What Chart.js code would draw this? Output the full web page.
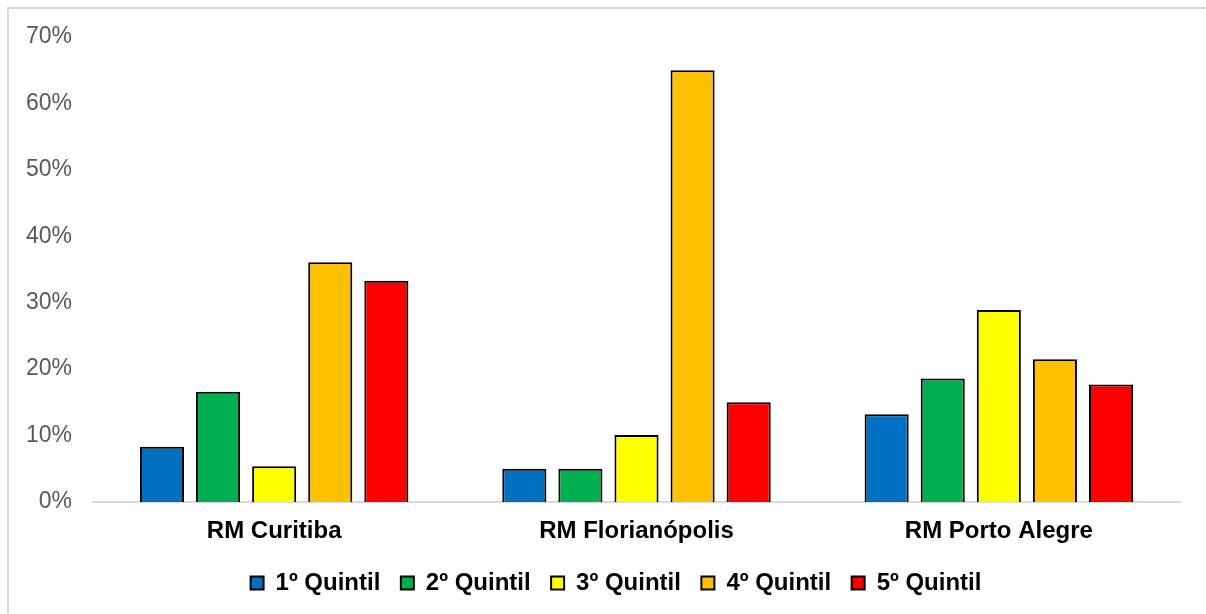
<!DOCTYPE html>
<html>
<head>
<meta charset="utf-8">
<script src="https://cdn.jsdelivr.net/npm/chart.js@4.4.1/dist/chart.umd.min.js"></script>
<style>
  html, body { margin: 0; padding: 0; background: #ffffff; }
  #wrap { width: 1206px; height: 614px; position: relative; }
</style>
</head>
<body>
<div id="wrap"><canvas id="c" width="1206" height="614"></canvas></div>
<script>
// Regions and income quintiles
const regions = ['RM Curitiba', 'RM Florianópolis', 'RM Porto Alegre'];
const quintis = ['1º Quintil', '2º Quintil', '3º Quintil', '4º Quintil', '5º Quintil'];

// Share (%) per quintile, in region order
const q1 = [8.3, 5.0, 13.2];
const q2 = [16.6, 5.0, 18.6];
const q3 = [5.4, 10.1, 28.9];
const q4 = [36.1, 65.0, 21.5];
const q5 = [33.3, 15.0, 17.7];

// Y axis ticks
const yTicks = [0, 10, 20, 30, 40, 50, 60, 70];

const seriesValues = [q1, q2, q3, q4, q5];
const fills = ['#0070C0', '#00B050', '#FFFF00', '#FFC000', '#FF0000'];

// Light frame along the top and left edges
const frame = {
  id: 'frame',
  beforeDraw(chart) {
    const ctx = chart.ctx;
    ctx.save();
    ctx.fillStyle = '#ffffff';
    ctx.fillRect(0, 0, chart.width, chart.height);
    ctx.strokeStyle = '#d9d9d9';
    ctx.lineWidth = 2;
    ctx.beginPath();
    ctx.moveTo(8, chart.height);
    ctx.lineTo(8, 8);
    ctx.lineTo(chart.width, 8);
    ctx.stroke();
    ctx.restore();
  }
};

// Nudge the legend row to the right so it sits under the plot's centre
const legendShift = {
  id: 'legendShift',
  afterLayout(chart) {
    if (chart.legend) chart.legend.left += 52;
  }
};

new Chart(document.getElementById('c'), {
  type: 'bar',
  data: {
    labels: regions,
    datasets: quintis.map((name, i) => ({
      label: name,
      data: seriesValues[i],
      backgroundColor: fills[i],
      borderColor: '#000000',
      borderWidth: 2,
      categoryPercentage: 0.774,
      barPercentage: 0.786
    }))
  },
  options: {
    responsive: false,
    animation: false,
    layout: { padding: { top: 37, right: 26, bottom: 9, left: 0 } },
    plugins: {
      tooltip: { enabled: false },
      legend: {
        position: 'bottom',
        labels: {
          color: '#000000',
          font: { family: '"Liberation Sans", Arial, sans-serif', size: 24, weight: 'bold' },
          boxWidth: 13,
          boxHeight: 13,
          padding: 20.5
        }
      }
    },
    scales: {
      x: {
        afterFit(scale) { scale.height = 48.5; },
        grid: { display: false, drawTicks: false },
        border: { display: true, color: '#d9d9d9', width: 2 },
        ticks: {
          color: '#000000',
          padding: 15,
          font: { family: '"Liberation Sans", Arial, sans-serif', size: 24, weight: 'bold' }
        }
      },
      y: {
        min: 0,
        max: 70,
        afterFit(scale) { scale.width = 93; },
        afterBuildTicks(scale) { scale.ticks = yTicks.map(v => ({ value: v })); },
        grid: { display: false, drawTicks: false },
        border: { display: false },
        ticks: {
          color: '#595959',
          padding: 21,
          font: { family: '"Liberation Sans", Arial, sans-serif', size: 23 },
          callback: v => v + '%'
        }
      }
    }
  },
  plugins: [frame, legendShift]
});
</script>
</body>
</html>
